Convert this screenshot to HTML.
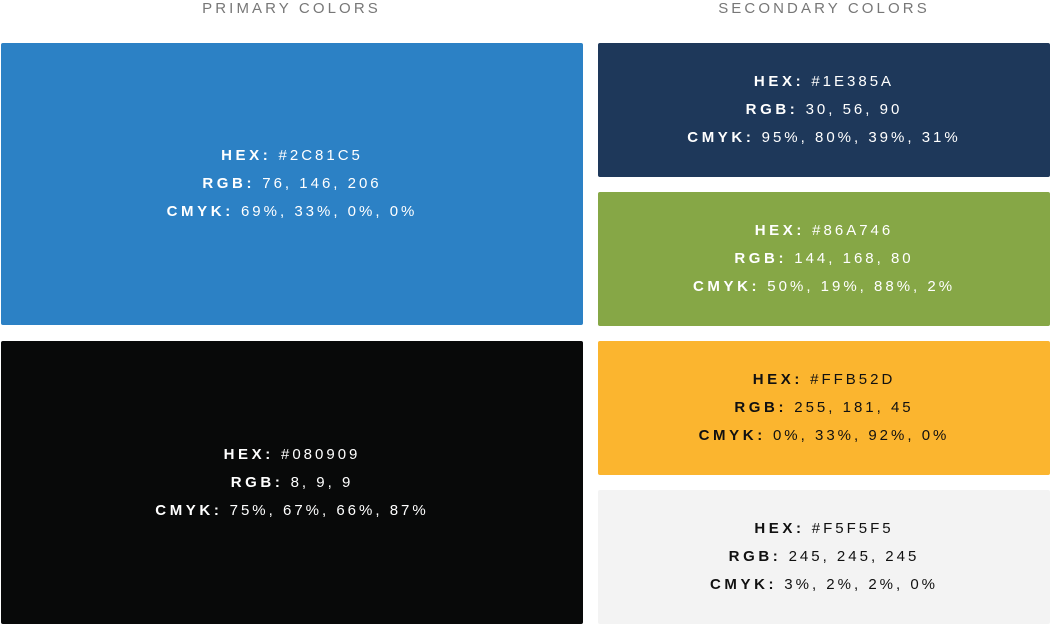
<!DOCTYPE html>
<html><head><style>
body{margin:0;width:1050px;height:626px;background:#fff;position:relative;overflow:hidden;font-family:"Liberation Sans",sans-serif}
.h{position:absolute;top:1px;font-size:15px;letter-spacing:3.1px;color:#777;text-align:center;line-height:16px}
.b{position:absolute;border-radius:2px;display:flex;flex-direction:column;justify-content:center;align-items:center;font-size:15px;letter-spacing:3px;color:#fff;line-height:28px}
.b b{letter-spacing:3.6px}
.d{color:#111}
</style></head><body>
<div class="h" style="left:0;width:583px">PRIMARY COLORS</div>
<div class="h" style="left:598px;width:452px">SECONDARY COLORS</div>
<div class="b" style="left:1px;top:43px;width:582px;height:282px;background:#2c81c5"><div><b>HEX:</b> #2C81C5</div><div><b>RGB:</b> 76, 146, 206</div><div><b>CMYK:</b> 69%, 33%, 0%, 0%</div></div>
<div class="b" style="left:1px;top:341px;width:582px;height:283px;background:#080909"><div><b>HEX:</b> #080909</div><div><b>RGB:</b> 8, 9, 9</div><div><b>CMYK:</b> 75%, 67%, 66%, 87%</div></div>
<div class="b" style="left:598px;top:43px;width:452px;height:134px;background:#1e385a"><div><b>HEX:</b> #1E385A</div><div><b>RGB:</b> 30, 56, 90</div><div><b>CMYK:</b> 95%, 80%, 39%, 31%</div></div>
<div class="b" style="left:598px;top:192px;width:452px;height:134px;background:#86a746"><div><b>HEX:</b> #86A746</div><div><b>RGB:</b> 144, 168, 80</div><div><b>CMYK:</b> 50%, 19%, 88%, 2%</div></div>
<div class="b d" style="left:598px;top:341px;width:452px;height:134px;background:#fbb52f"><div><b>HEX:</b> #FFB52D</div><div><b>RGB:</b> 255, 181, 45</div><div><b>CMYK:</b> 0%, 33%, 92%, 0%</div></div>
<div class="b d" style="left:598px;top:490px;width:452px;height:134px;background:#f3f3f3"><div><b>HEX:</b> #F5F5F5</div><div><b>RGB:</b> 245, 245, 245</div><div><b>CMYK:</b> 3%, 2%, 2%, 0%</div></div>
</body></html>
